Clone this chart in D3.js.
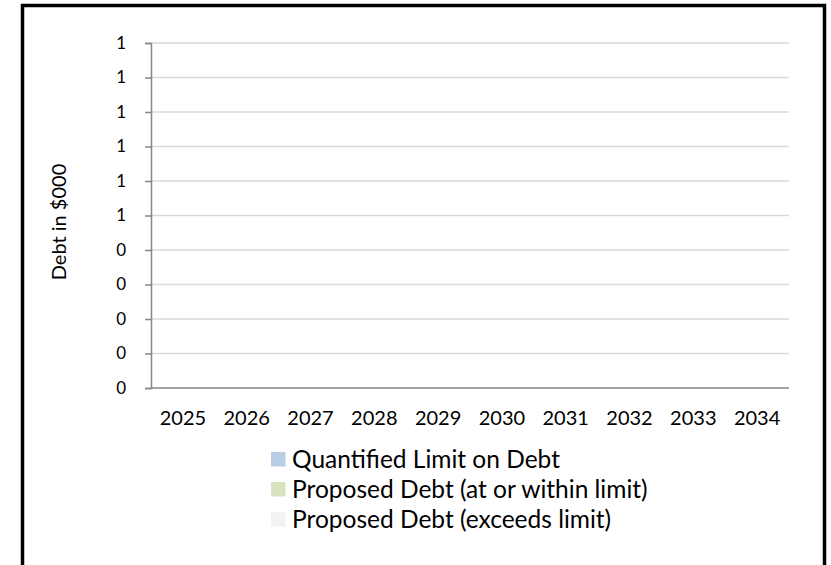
<!DOCTYPE html>
<html>
<head>
<meta charset="utf-8">
<script src="https://cdn.jsdelivr.net/npm/d3@7/dist/d3.min.js"></script>
<style>
  html, body { margin: 0; padding: 0; background: #ffffff; }
  svg { display: block; }
  text { font-family: Lato, "Noto Sans", sans-serif; fill: #000000; }
</style>
</head>
<body>
<svg id="chart" width="831" height="565"></svg>
<script>
// Fiscal years shown along the horizontal axis
const years = ["2025", "2026", "2027", "2028", "2029", "2030", "2031", "2032", "2033", "2034"];

// Debt in $000 per year
const limitValues    = [0, 0, 0, 0, 0, 0, 0, 0, 0, 0];
const withinValues   = [0, 0, 0, 0, 0, 0, 0, 0, 0, 0];
const exceedsValues  = [0, 0, 0, 0, 0, 0, 0, 0, 0, 0];

// Vertical axis ticks
const yTickValues = [0, 0.1, 0.2, 0.3, 0.4, 0.5, 0.6, 0.7, 0.8, 0.9, 1.0];

// Legend entries
const seriesNames  = ["Quantified Limit on Debt", "Proposed Debt (at or within limit)", "Proposed Debt (exceeds limit)"];
const seriesColors = ["#b9cde5", "#d7e4bd", "#f2f2f2"];

const svg = d3.select("#chart");

// Outer frame
svg.append("rect")
  .attr("x", 22.5).attr("y", 5.5)
  .attr("width", 802).attr("height", 620)
  .attr("fill", "#ffffff")
  .attr("stroke", "#000000")
  .attr("stroke-width", 3.5);

const plot = { left: 151, right: 789, top: 43, bottom: 388 };

const x = d3.scaleBand()
  .domain(years)
  .range([plot.left, plot.right])
  .paddingInner(0.5)
  .paddingOuter(0.25);

const xSub = d3.scaleBand()
  .domain(["limit", "proposed"])
  .range([0, x.bandwidth()])
  .padding(0);

const y = d3.scaleLinear()
  .domain([0, 1])
  .range([plot.bottom, plot.top]);

// Horizontal gridlines
svg.append("g")
  .selectAll("line")
  .data(yTickValues.filter(v => v > 0))
  .join("line")
  .attr("x1", plot.left).attr("x2", plot.right)
  .attr("y1", d => y(d)).attr("y2", d => y(d))
  .attr("stroke", "#d9d9d9")
  .attr("stroke-width", 1.5);

// Bars: quantified limit beside the stacked proposed debt
const bars = svg.append("g");
years.forEach((yr, i) => {
  bars.append("rect")
    .attr("x", x(yr) + xSub("limit"))
    .attr("width", xSub.bandwidth())
    .attr("y", y(limitValues[i]))
    .attr("height", y(0) - y(limitValues[i]))
    .attr("fill", seriesColors[0]);
  bars.append("rect")
    .attr("x", x(yr) + xSub("proposed"))
    .attr("width", xSub.bandwidth())
    .attr("y", y(withinValues[i]))
    .attr("height", y(0) - y(withinValues[i]))
    .attr("fill", seriesColors[1]);
  bars.append("rect")
    .attr("x", x(yr) + xSub("proposed"))
    .attr("width", xSub.bandwidth())
    .attr("y", y(withinValues[i] + exceedsValues[i]))
    .attr("height", y(withinValues[i]) - y(withinValues[i] + exceedsValues[i]))
    .attr("fill", seriesColors[2]);
});

// Y axis
const yAxis = d3.axisLeft(y)
  .tickValues(yTickValues)
  .tickSize(6)
  .tickPadding(19)
  .tickFormat(d => String(Math.round(d)));

const gy = svg.append("g")
  .attr("transform", `translate(${plot.left},0)`)
  .call(yAxis);
gy.select(".domain").attr("stroke", "#868686").attr("stroke-width", 1.5);
gy.selectAll(".tick line").attr("stroke", "#868686").attr("stroke-width", 1.5);
gy.selectAll(".tick text")
  .attr("font-family", "Lato, 'Noto Sans', sans-serif")
  .attr("font-size", 17)
  .attr("fill", "#000000");

// X axis
const xAxis = d3.axisBottom(x).tickSize(0).tickPadding(23).tickSizeOuter(0);
const gx = svg.append("g")
  .attr("transform", `translate(0,${plot.bottom})`)
  .call(xAxis);
gx.select(".domain")
  .attr("d", `M${plot.left},0H${plot.right}`)
  .attr("stroke", "#868686").attr("stroke-width", 1.5);
gx.selectAll(".tick text")
  .attr("font-family", "Lato, 'Noto Sans', sans-serif")
  .attr("font-size", 20)
  .attr("fill", "#000000");
gx.selectAll(".tick").attr("transform", d => `translate(${plot.left + (years.indexOf(d) + 0.5) * (plot.right - plot.left) / years.length},0)`);

// Y axis title
svg.append("text")
  .attr("transform", "translate(66,222) rotate(-90)")
  .attr("text-anchor", "middle")
  .attr("font-size", 20)
  .text("Debt in $000");

// Legend
const legend = svg.append("g").attr("transform", "translate(271,452)");
const rows = legend.selectAll("g")
  .data(seriesNames)
  .join("g")
  .attr("transform", (d, i) => `translate(0,${i * 30})`);
rows.append("rect")
  .attr("width", 14.5).attr("height", 14.5)
  .attr("fill", (d, i) => seriesColors[i]);
rows.append("text")
  .attr("x", 21).attr("y", 15.5)
  .attr("font-size", 24.5)
  .text(d => d);
</script>
</body>
</html>
